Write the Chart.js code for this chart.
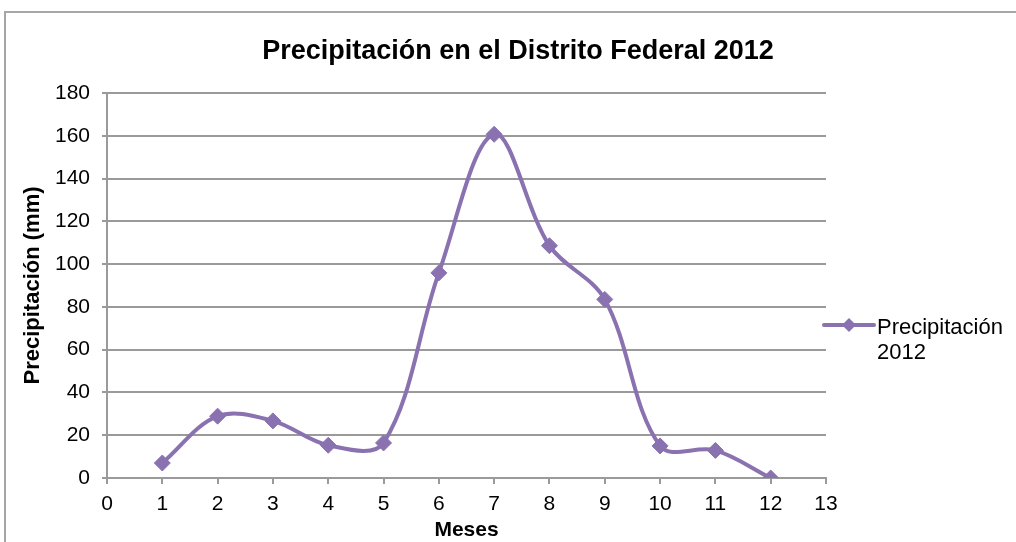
<!DOCTYPE html>
<html>
<head>
<meta charset="utf-8">
<script src="https://cdn.jsdelivr.net/npm/chart.js@4.4.1/dist/chart.umd.min.js"></script>
<style>
  html, body { margin: 0; padding: 0; background: #fff; }
  #wrap { position: relative; width: 1016px; height: 542px; }
  #frame { position: absolute; left: 4px; top: 11px; right: 0; bottom: 0;
           border-top: 2px solid #a6a6a6; border-left: 2px solid #a6a6a6; }
  canvas { position: absolute; left: 0; top: 0; }
</style>
</head>
<body>
<div id="wrap">
  <div id="frame"></div>
  <canvas id="chart" width="1016" height="542"></canvas>
</div>
<script>
// datos
const meses = [1, 2, 3, 4, 5, 6, 7, 8, 9, 10, 11, 12];
const precipitacion = [7, 28.9, 26.7, 15.3, 16.4, 95.9, 160.7, 108.6, 83.5, 15, 12.9, 0];
const serieNombre = ["Precipitación", "2012"];
const titulo = "Precipitación en el Distrito Federal 2012";

const morado = "#8a72b1";
const gris = "#9a9a9a";
const fuente = "'Liberation Sans', Arial, sans-serif";

// título centrado en todo el lienzo y leyenda en dos líneas
const extras = {
  id: "extras",
  afterDraw(chart) {
    const ctx = chart.ctx;
    ctx.save();
    ctx.fillStyle = "#000";
    ctx.font = "bold 27px " + fuente;
    ctx.textAlign = "center";
    ctx.textBaseline = "middle";
    ctx.fillText(titulo, 518, 52);

    const y = 325;
    ctx.strokeStyle = morado;
    ctx.lineWidth = 4;
    ctx.lineCap = "round";
    ctx.beginPath();
    ctx.moveTo(824, y);
    ctx.lineTo(874, y);
    ctx.stroke();
    ctx.fillStyle = morado;
    ctx.beginPath();
    ctx.moveTo(849, y - 7);
    ctx.lineTo(856, y);
    ctx.lineTo(849, y + 7);
    ctx.lineTo(842, y);
    ctx.closePath();
    ctx.fill();
    ctx.fillStyle = "#000";
    ctx.font = "22px " + fuente;
    ctx.textAlign = "left";
    ctx.fillText(serieNombre[0], 877, y + 3);
    ctx.fillText(serieNombre[1], 877, y + 28);
    ctx.restore();
  }
};

new Chart(document.getElementById("chart"), {
  type: "line",
  data: {
    datasets: [{
      label: serieNombre.join(" "),
      data: meses.map((m, i) => ({ x: m, y: precipitacion[i] })),
      borderColor: morado,
      backgroundColor: morado,
      borderWidth: 4,
      tension: 0.35,
      pointStyle: "rectRot",
      pointRadius: 8,
      pointBackgroundColor: morado,
      pointBorderColor: morado,
      pointBorderWidth: 1,
      fill: false
    }]
  },
  options: {
    responsive: false,
    animation: false,
    layout: { padding: { left: 0, right: 190, top: 93, bottom: 0 } },
    plugins: {
      legend: { display: false },
      tooltip: { enabled: false },
      title: { display: false }
    },
    scales: {
      x: {
        type: "linear",
        min: 0,
        max: 13,
        ticks: { stepSize: 1, color: "#000", font: { family: fuente, size: 21 }, padding: 8 },
        grid: { drawOnChartArea: false, drawTicks: true, tickLength: 6, color: gris, lineWidth: 2 },
        border: { color: gris, width: 2 },
        title: {
          display: true,
          text: "Meses",
          color: "#000",
          font: { family: fuente, size: 21, weight: "bold", lineHeight: 1.1 },
          padding: { top: 0, bottom: 0 }
        },
        afterFit(scale) { scale.height = 64; }
      },
      y: {
        min: 0,
        max: 180,
        ticks: { stepSize: 20, color: "#000", font: { family: fuente, size: 21 }, padding: 12 },
        grid: { color: gris, lineWidth: 2, tickLength: 5 },
        border: { color: gris, width: 2 },
        title: {
          display: true,
          text: "Precipitación (mm)",
          color: "#000",
          font: { family: fuente, size: 22, weight: "bold" },
          padding: { top: 20, bottom: 0 }
        },
        afterFit(scale) { scale.width = 107; }
      }
    }
  },
  plugins: [extras]
});
</script>
</body>
</html>
